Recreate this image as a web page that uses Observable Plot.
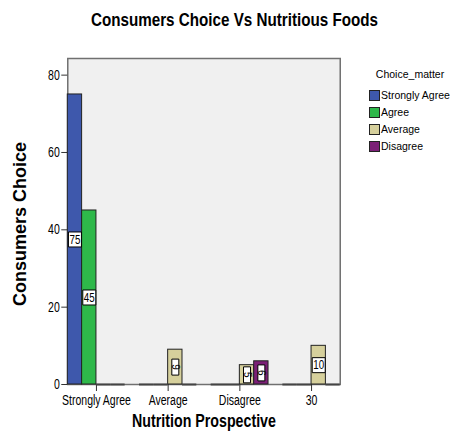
<!DOCTYPE html>
<html>
<head>
<meta charset="utf-8">
<script src="https://cdn.jsdelivr.net/npm/d3@7"></script>
<script src="https://cdn.jsdelivr.net/npm/@observablehq/plot@0.6"></script>
<style>
  body { margin: 0; background: #fff; font-family: "Liberation Sans", Arial, sans-serif; color: #000; }
  #wrap { position: relative; width: 459px; height: 439px; overflow: hidden; }
  #title { position: absolute; left: 5px; top: 10px; width: 459px; text-align: center; font-size: 19px; line-height: 19px; font-weight: bold; transform: scaleX(0.8); white-space: nowrap; }
  #chart { position: absolute; left: 0; top: 36px; }
  #ylabel { position: absolute; left: -80px; top: 214px; width: 200px; height: 20px; line-height: 20px; text-align: center; font-size: 18px; font-weight: bold; transform: rotate(-90deg); white-space: nowrap; }
  #caption { position: absolute; left: 54px; top: 412px; width: 300px; text-align: center; font-size: 18px; line-height: 18px; font-weight: bold; transform: scaleX(0.79); white-space: nowrap; }
  #legend { position: absolute; left: 362px; top: 68px; width: 97px; font-size: 10.5px; }
  #legend .lt { line-height: 12px; text-align: center; width: 96px; height: 19px; }
  #legend .row { height: 17px; line-height: 17px; white-space: nowrap; display: flex; align-items: center; }
  #legend .sw { display: inline-block; width: 9px; height: 9px; border: 1px solid #222; margin-left: 7px; margin-right: 1px; }
</style>
</head>
<body>
<div id="wrap">
  <div id="title"></div>
  <div id="chart"></div>
  <div id="ylabel"></div>
  <div id="caption"></div>
  <div id="legend"></div>
</div>
<script>
// ---- data ----
const titleText = "Consumers Choice Vs Nutritious Foods";
const xLabel = "Nutrition Prospective";
const yLabel = "Consumers Choice";
const legendTitle = "Choice_matter";
const categories = ["Strongly Agree", "Average", "Disagree", "30"];
const series = ["Strongly Agree", "Agree", "Average", "Disagree"];
const colors = ["#3E58AC", "#2EB84A", "#D6D09C", "#7B1F76"];
const stronglyAgreeValues = [75, 0, 0, 0];
const agreeValues = [45, 0, 0, 0];
const averageValues = [0, 9, 5, 10];
const disagreeValues = [0, 0, 6, 0];
const yTicks = [0, 20, 40, 60, 80];

// ---- table ----
const seriesValues = [stronglyAgreeValues, agreeValues, averageValues, disagreeValues];
const table = [];
categories.forEach((c, i) => {
  series.forEach((s, j) => {
    table.push({category: c, series: s, value: seriesValues[j][i]});
  });
});
const nonZero = table.filter(d => d.value > 0);
const flatLabels = nonZero.filter(d => d.value >= 10);
const turnedLabels = nonZero.filter(d => d.value < 10);
const zeros = table.filter(d => d.value === 0);

const boxFlat = {draw(ctx) { ctx.rect(-6.5, -7.5, 13, 15); }};
const boxTall = {draw(ctx) { ctx.rect(-3.5, -8, 7, 16); }};

const chart = Plot.plot({
  width: 459,
  height: 375,
  marginTop: 22,
  marginBottom: 27,
  marginLeft: 52,
  marginRight: 104,
  style: {fontFamily: "Liberation Sans, Arial, sans-serif", color: "#000", background: "transparent"},
  fx: {domain: categories, paddingInner: 0.2, paddingOuter: 0.213, label: null, round: false},
  x: {domain: series, padding: 0, axis: null, round: false},
  y: {domain: [0, 84.3], axis: null},
  color: {domain: series, range: colors},
  marks: [
    Plot.frame({fill: "#F0F0F0", stroke: "#707070", strokeWidth: 1.5, facet: "super"}),
    Plot.axisY({ticks: yTicks, tickSize: 6, tickPadding: 2, fontSize: 14, label: null, stroke: "#333"}),
    Plot.axisFx({anchor: "bottom", tickSize: 7, tickPadding: 4, fontSize: 14, label: null, stroke: "#333"}),
    Plot.barY(table, {fx: "category", x: "series", y: "value", fill: "series", stroke: "#222", strokeWidth: 1, inset: 0}),
    Plot.tickY(zeros, {fx: "category", x: "series", y: "value", stroke: "#444", strokeWidth: 2}),
    Plot.dot(flatLabels, {fx: "category", x: "series", y: d => d.value / 2, symbol: boxFlat, r: 5, fill: "white", stroke: "#000", strokeWidth: 1}),
    Plot.dot(turnedLabels, {fx: "category", x: "series", y: d => d.value / 2, symbol: boxTall, r: 5, fill: "white", stroke: "#000", strokeWidth: 1}),
    Plot.text(flatLabels, {fx: "category", x: "series", y: d => d.value / 2, text: d => String(d.value), fontSize: 13, fill: "#000"}),
    Plot.text(turnedLabels, {fx: "category", x: "series", y: d => d.value / 2, text: d => String(d.value), rotate: 90, fontSize: 10, fill: "#000"})
  ]
});

// condense horizontal SVG text (narrow SPSS font look)
chart.querySelectorAll("text").forEach(t => {
  const tr = t.getAttribute("transform") || "";
  const g = t.parentNode;
  const gtr = (g && g.getAttribute && g.getAttribute("transform")) || "";
  if (/rotate/.test(tr) || /rotate/.test(gtr)) return;
  const x = parseFloat(t.getAttribute("x")) || 0;
  t.removeAttribute("x");
  t.setAttribute("transform", (tr + ` translate(${x},0) scale(0.75,1)`).trim());
});

document.getElementById("chart").appendChild(chart);
document.getElementById("title").textContent = titleText;
document.getElementById("ylabel").textContent = yLabel;
document.getElementById("caption").textContent = xLabel;

const legend = document.getElementById("legend");
const lt = document.createElement("div");
lt.className = "lt";
lt.textContent = legendTitle;
legend.appendChild(lt);
series.forEach((s, i) => {
  const row = document.createElement("div");
  row.className = "row";
  const sw = document.createElement("span");
  sw.className = "sw";
  sw.style.background = colors[i];
  row.appendChild(sw);
  row.appendChild(document.createTextNode(s));
  legend.appendChild(row);
});
</script>
</body>
</html>
